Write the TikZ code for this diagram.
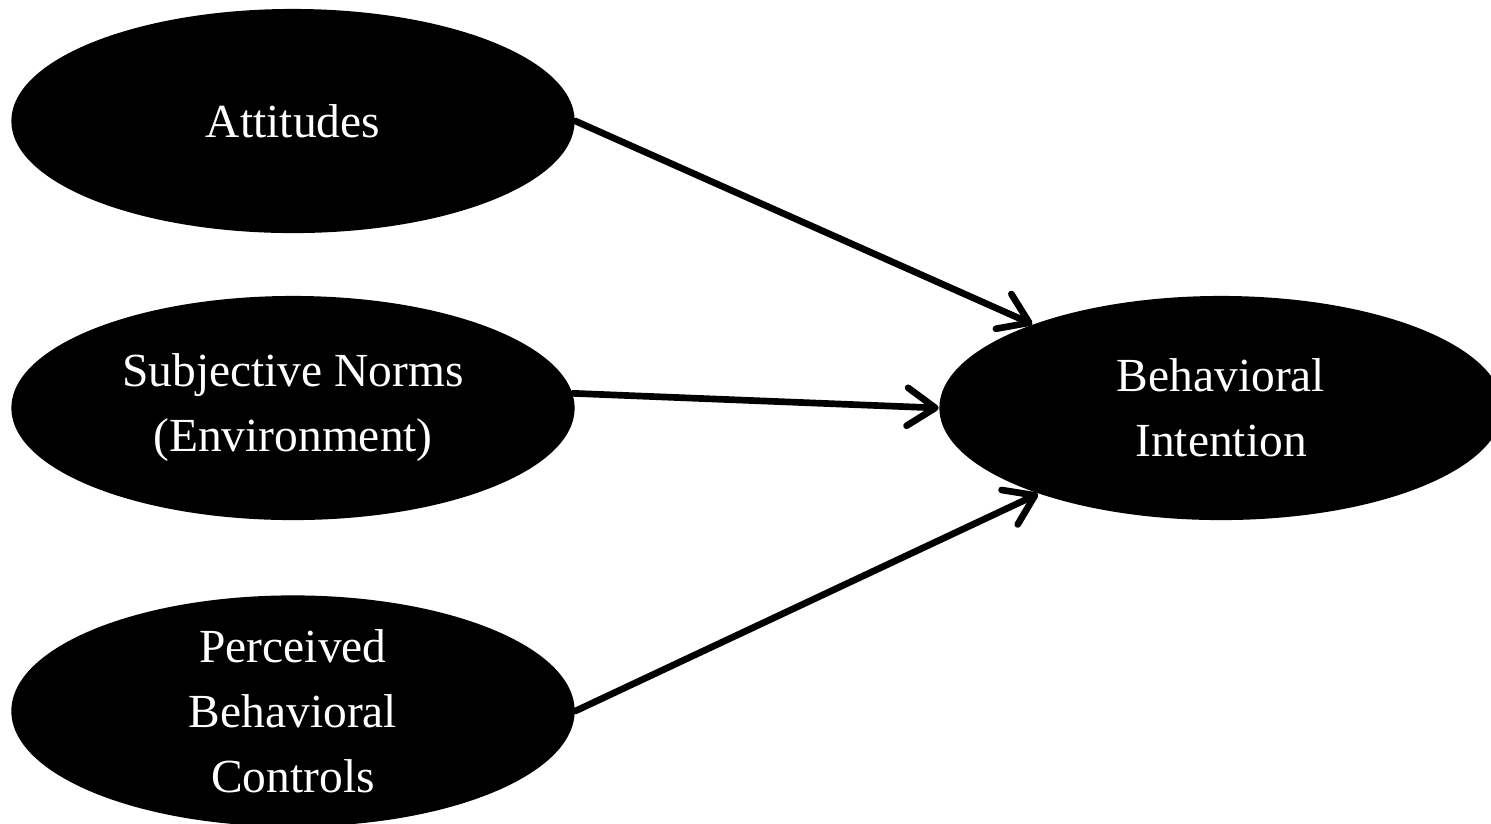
\documentclass[tikz,border=0pt]{standalone}
\usepackage{fontspec}
\setmainfont{Liberation Serif}
\usetikzlibrary{arrows.meta,shapes.geometric}

\begin{document}
\begin{tikzpicture}
[x=0.01cm,y=-0.01cm
,cn/.style={ellipse,fill=black,text=white,inner sep=0pt,minimum width=5.63cm,minimum height=2.24cm,align=center,font=\fontsize{13.5}{18.5}\selectfont}
,ce/.style={draw=black,line width=1.9pt,line cap=round,arrows={-Straight Barb[length=2.8mm,width=3.8mm,round]}}]
\useasboundingbox (0,0) rectangle (1491,823);
\node[cn] (att) at (293,121) {Attitudes};
\node[cn] (sn) at (293,408) {Subjective Norms\\(Environment)};
\node[cn] (pbc) at (293,711) {Perceived\\Behavioral\\Controls};
\node[cn] (bi) at (1221,408) {Behavioral\\Intention};
\draw[ce] (att.east) -- (bi);
\draw[ce] (sn.3) -- (bi.west);
\draw[ce] (pbc.east) -- (bi);
\end{tikzpicture}
\end{document}
